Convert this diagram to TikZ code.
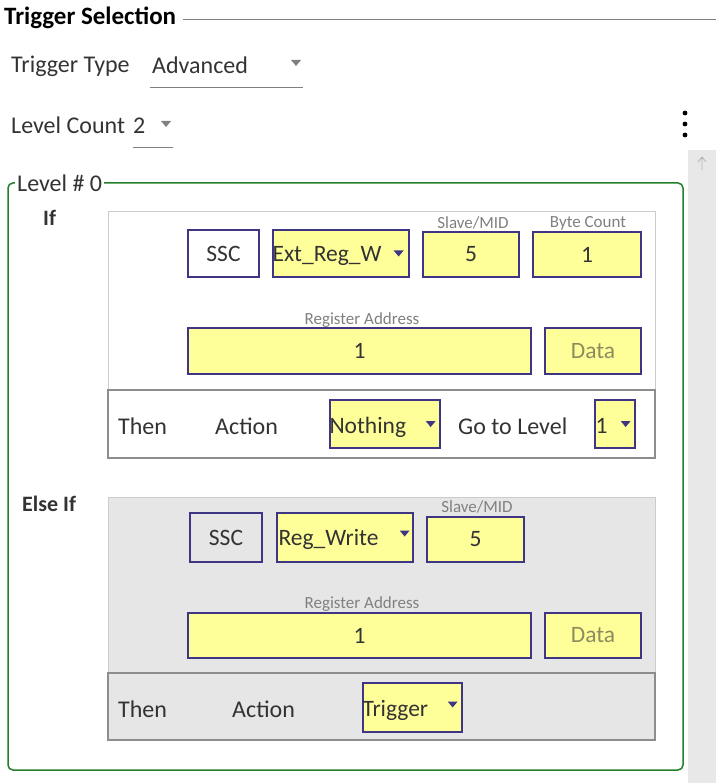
\documentclass[tikz,border=0pt]{standalone}
\usepackage{fontspec}
\setmainfont{Carlito}
\usetikzlibrary{calc}
\definecolor{purp}{HTML}{3F3585}
\definecolor{yel}{HTML}{FFFF99}
\definecolor{txt}{HTML}{333333}
\definecolor{lbl}{HTML}{808080}
\definecolor{datac}{HTML}{8C8C5E}
\definecolor{grn}{HTML}{23802A}
\definecolor{panelgray}{HTML}{E6E6E6}
\definecolor{scroll}{HTML}{E8E8E8}
\tikzset{
  ybox/.style={draw=purp, line width=1.3pt, fill=yel, inner sep=0pt},
  wbox/.style={draw=purp, line width=1.3pt, fill=white, inner sep=0pt},
  lab/.style={font=\fontsize{24}{26}\selectfont, text=txt, inner sep=0pt, anchor=base west},
  small/.style={font=\fontsize{17}{18}\selectfont, text=lbl, inner sep=0pt},
  val/.style={font=\fontsize{23.5}{25}\selectfont, text=txt, inner sep=0pt},
}
\newcommand{\ddarrow}[2][purp]{\fill[#1] ($(#2)+(-5,-3)$) -- ++(10,0) -- ++(-5,6) -- cycle;}
\begin{document}
\begin{tikzpicture}[x=1pt,y=-1pt]
\useasboundingbox (0,0) rectangle (716,783);
% header
\node[lab, font=\bfseries\fontsize{25}{27}\selectfont, text=black] (title) at (4,25) {Trigger Selection};
\coordinate (titleend) at (716,19);
\draw[lbl, line width=0.8pt] ([xshift=7pt]title.east |- titleend) -- (titleend);
\node[lab] (ttype) at (11,73) {Trigger Type};
\node[lab] (adv) at (152,74) {Advanced};
\coordinate (advarr) at (296,63);
\ddarrow[lbl]{advarr}
\draw[lbl, line width=1pt] (150,88) -- (303,88);
\node[lab] (lcount) at (11,134) {Level Count};
\node[lab] (two) at (133,134) {2};
\coordinate (lcarr) at (166,124);
\ddarrow[lbl]{lcarr}
\draw[lbl, line width=1pt] (133,148) -- (173,148);
% kebab dots
\foreach \yy in {113,124,135} \fill[black] (685,\yy) circle (2.4);
% scrollbar
\fill[scroll] (688,150) rectangle (716,783);
\draw[lbl!60, line width=0.8pt] (702,170) -- (702,158) (698,162) -- (702,157) -- (706,162);
% green frame
\draw[grn, line width=1.5pt, rounded corners=5pt] (8,183) rectangle (683,770);
\node[lab, fill=white, inner xsep=2pt, inner ysep=1pt, anchor=west] (lvl) at (15,183) {Level \# 0};
% If
\node[lab, font=\bfseries\fontsize{22}{24}\selectfont] (if) at (43,226) {If};
\draw[lbl!40, line width=1pt, fill=white] (108,212) rectangle (655,458);
\node[wbox, minimum width=71pt, minimum height=47pt] (ssc1) at (223.5,253.5) {};
\node[val] at (ssc1) {SSC};
\node[ybox, minimum width=136pt, minimum height=47pt] (ext) at (341,253.5) {};
\node[val, anchor=base west] at ($(ext.west)+(0,8)$) {Ext\_Reg\_W};
\coordinate (extarr) at ($(ext.east)+(-11,0)$);
\ddarrow{extarr}
\node[small] (sm1) at (473,223) {Slave/MID};
\node[ybox, minimum width=96pt, minimum height=45pt] (sl1) at (471,254.5) {};
\node[val] at (sl1) {5};
\node[small] (bc1) at (588,223) {Byte Count};
\node[ybox, minimum width=108pt, minimum height=45pt] (bc1box) at (587,254.5) {};
\node[val] at (bc1box) {1};
\node[small] (ra1) at (362,320) {Register Address};
\node[ybox, minimum width=343pt, minimum height=46pt] (ra1box) at (359.5,351) {};
\node[val] at (ra1box) {1};
\node[ybox, minimum width=96pt, minimum height=46pt] (d1) at (593,351) {};
\node[val, text=datac] at (d1) {Data};
\node[draw=lbl!90, line width=1.3pt, minimum width=547pt, minimum height=68pt, inner sep=0pt] (then1) at (381.5,424) {};
\node[lab] (th1) at (118,434) {Then};
\node[lab] (ac1) at (215,434) {Action};
\node[ybox, minimum width=110pt, minimum height=48pt] (noth) at (385,424) {};
\node[val, anchor=base west] at ($(noth.west)+(0,9)$) {Nothing};
\coordinate (notharr) at ($(noth.east)+(-10,0)$);
\ddarrow{notharr}
\node[lab] (gtl) at (458,434) {Go to Level};
\node[ybox, minimum width=40pt, minimum height=48pt] (gl) at (615,424) {};
\node[val, anchor=base west] at ($(gl.west)+(1,9)$) {1};
\coordinate (glarr) at ($(gl.east)+(-10,0)$);
\ddarrow{glarr}
% Else If
\node[lab, font=\bfseries\fontsize{22}{24}\selectfont] (elif) at (22,511) {Else If};
\draw[lbl!40, line width=1pt, fill=panelgray] (108,497) rectangle (655,740);
\node[wbox, fill=panelgray, minimum width=72pt, minimum height=49pt] (ssc2) at (226,537.5) {};
\node[val] at (ssc2) {SSC};
\node[ybox, minimum width=136pt, minimum height=49pt] (rw) at (345,537.5) {};
\node[val, anchor=base west] at ($(rw.west)+(2,8)$) {Reg\_Write};
\coordinate (rwarr) at ($(rw.east)+(-9,-4)$);
\ddarrow{rwarr}
\node[small] (sm2) at (477,507) {Slave/MID};
\node[ybox, minimum width=97pt, minimum height=45pt] (sl2) at (475.5,539.5) {};
\node[val] at (sl2) {5};
\node[small] (ra2) at (362,604) {Register Address};
\node[ybox, minimum width=343pt, minimum height=45pt] (ra2box) at (359.5,635.5) {};
\node[val] at (ra2box) {1};
\node[ybox, minimum width=96pt, minimum height=45pt] (d2) at (593,635.5) {};
\node[val, text=datac] at (d2) {Data};
\node[draw=lbl!90, line width=1.3pt, minimum width=547pt, minimum height=67pt, inner sep=0pt] (then2) at (381.5,706.5) {};
\node[lab] (th2) at (118,717) {Then};
\node[lab] (ac2) at (232,717) {Action};
\node[ybox, minimum width=99pt, minimum height=49pt] (trig) at (412.5,707.5) {};
\node[val, anchor=base west] at ($(trig.west)+(0,9)$) {Trigger};
\coordinate (trigarr) at ($(trig.east)+(-10,-3)$);
\ddarrow{trigarr}
\end{tikzpicture}
\end{document}
